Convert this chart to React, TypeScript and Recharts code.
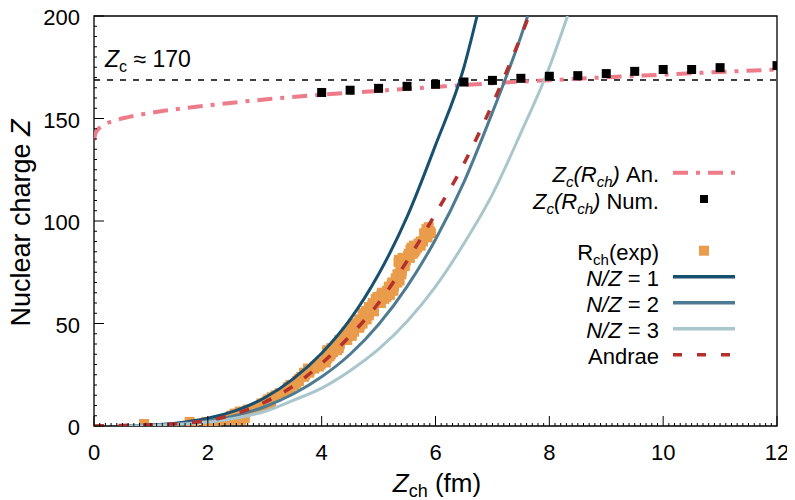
import React from 'react';
import { ComposedChart, Line, Scatter, XAxis, YAxis, ReferenceLine, ReferenceArea } from 'recharts';

const FONT = '"Liberation Sans", Arial, sans-serif';

const xMajor = [0, 2, 4, 6, 8, 10, 12];
const yMajor = [0, 50, 100, 150, 200];
const xMinor = Array.from({ length: 121 }, (_, i) => i / 10);
const yMinor = Array.from({ length: 41 }, (_, i) => i * 5);

// Z_c(R_ch) analytic
const anR = [0, 0.03, 0.1, 0.2, 0.4, 0.8, 1.4, 2.2, 3, 4, 5, 6, 7, 8, 9, 10, 11, 12];
const anZ = [139.5, 143, 145.5, 147.3, 149.3, 151.8, 154.4, 157, 159.3, 161.6, 163.5, 165.4, 167.2, 168.7, 170.1, 171.4, 172.7, 173.9];

// Z_c(R_ch) numerical
const numR = [4, 4.5, 5, 5.5, 6, 6.5, 7, 7.5, 8, 8.5, 9, 9.5, 10, 10.5, 11, 12];
const numZ = [162.7, 163.8, 164.7, 165.7, 166.7, 167.8, 168.6, 169.6, 170.6, 170.9, 171.9, 173, 173.9, 173.9, 174.8, 175.8];

// measured charge radii
const expR = [
  0.88, 2.14, 1.76, 1.68, 1.97, 2.07, 2.59, 2.44, 2.34, 2.25, 2.65, 2.52, 2.36, 2.46,
  2.43, 2.41, 2.47, 2.5, 2.56, 2.61, 2.7, 2.77, 2.9, 3.01, 2.97, 2.93, 2.99, 2.94, 3.1,
  3.06, 3.03, 3.11, 3.06, 3.12, 3.19, 3.26, 3.3, 3.37, 3.39, 3.4, 3.45, 3.41, 3.45,
  3.45, 3.52, 3.55, 3.57, 3.6, 3.6, 3.64, 3.69, 3.71, 3.69, 3.78, 3.79, 3.76, 3.87,
  3.88, 3.95, 3.93, 3.98, 3.99, 4.07, 4.07, 4.1, 4.14, 4.16, 4.09, 4.2, 4.1, 4.27,
  4.17, 4.3, 4.24, 4.3, 4.27, 4.32, 4.32, 4.41, 4.48, 4.49, 4.53, 4.54, 4.58, 4.64,
  4.56, 4.67, 4.6, 4.7, 4.68, 4.74, 4.75, 4.78, 4.8, 4.74, 4.83, 4.8, 4.9, 4.85, 4.88,
  4.89, 4.91, 5.04, 4.95, 5.1, 4.98, 5.14, 5.16, 5.06, 5.22, 5.2, 5.25, 5.23, 5.3,
  5.37, 5.35, 5.35, 5.37, 5.4, 5.41, 5.4, 5.43, 5.44, 5.35, 5.47, 5.36, 5.48, 5.42,
  5.55, 5.52, 5.53, 5.6, 5.56, 5.65, 5.58, 5.68, 5.62, 5.74, 5.78, 5.86, 5.86, 5.9, 5.84,
  4.31, 4.45, 4.4, 4.53, 4.44, 4.57, 4.52, 4.66, 4.56, 4.72, 4.66, 4.79, 4.72, 4.83,
  4.78, 4.92, 4.83, 4.92, 4.9, 5.05, 5.2, 5.15, 5.26, 5.18, 5.27, 5.24, 5.33, 5.3,
  5.33, 5.4, 5.38, 5.46, 5.63, 5.7, 5.74, 5.8, 5.92, 5.88, 5.0, 5.12, 5.18,
];
const expZ = [
  1, 1, 1, 2, 2, 2, 3, 3, 3, 3, 4, 4, 4, 4,
  5, 5, 6, 6, 7, 7, 8, 8, 9, 10, 10, 10, 11, 11, 11,
  12, 12, 12, 13, 14, 15, 16, 16, 17, 17, 18, 18, 19, 19,
  20, 20, 21, 22, 22, 23, 24, 24, 25, 26, 26, 27, 28, 28,
  29, 29, 30, 30, 31, 31, 32, 33, 34, 35, 36, 36, 37, 37,
  38, 38, 39, 39, 40, 40, 41, 42, 44, 45, 46, 47, 48, 48,
  49, 49, 50, 50, 51, 52, 53, 54, 54, 55, 55, 56, 56, 57, 58,
  59, 60, 60, 62, 62, 63, 63, 64, 65, 66, 67, 68, 69, 70,
  71, 72, 73, 74, 75, 76, 77, 78, 79, 80, 80, 81, 81, 82,
  82, 83, 84, 84, 86, 86, 87, 87, 88, 88, 90, 92, 94, 95, 96,
  42, 42, 44, 44, 46, 46, 48, 48, 50, 50, 52, 52, 54, 54,
  56, 56, 58, 58, 60, 64, 64, 66, 66, 68, 68, 70, 70, 72,
  74, 74, 78, 78, 85, 89, 90, 94, 94, 97, 62, 65, 67,
];

// Z(R_ch) for fixed N/Z
const nz1R = [0.5, 1, 1.5, 2, 2.5, 3, 3.5, 4, 4.5, 5, 5.5, 6, 6.5, 6.73];
const nz1Z = [0.1, 0.5, 1.6, 3.8, 7.6, 13.8, 23, 35.5, 52, 74, 102, 137, 175, 200];
const nz2R = [0.5, 1, 1.5, 2, 2.5, 3, 3.5, 4, 4.5, 5, 5.5, 6, 6.5, 7, 7.5, 7.62];
const nz2Z = [0.05, 0.3, 1.1, 2.6, 5.2, 9.4, 15.6, 24, 35, 49.5, 68, 91, 119, 153, 190, 200];
const nz3R = [0.5, 1, 1.5, 2, 2.5, 3, 3.5, 4, 4.5, 5, 5.5, 6, 6.5, 7, 7.5, 8, 8.32];
const nz3Z = [0.03, 0.25, 0.8, 1.9, 3.9, 7.1, 12.5, 18.5, 27, 37.5, 51, 68, 89, 113, 143, 175, 200];

// Andrae
const andR = [0, 0.5, 1, 1.5, 2, 2.5, 3, 3.5, 4, 4.5, 5, 5.5, 6, 6.5, 7, 7.5, 7.64];
const andZ = [0, 0.3, 0.6, 1.2, 2.6, 6, 11.6, 19.5, 30.5, 44, 60, 80.5, 103.5, 128, 157, 190, 200];

const zCrit = 168.8;

const pairs = (rs: number[], zs: number[]) => rs.map((r, i) => ({ r, z: zs[i] }));

const C_AN = '#EE7B8A';
const C_EXP = '#E99C4B';
const C_NZ1 = '#18506F';
const C_NZ2 = '#4E7A92';
const C_NZ3 = '#A9C6CD';
const C_AND = '#B3302C';

const XTick = (props: any) => {
  const { x, y, payload } = props;
  const major = xMajor.includes(payload.value);
  return (
    <g>
      <line x1={x} x2={x} y1={y} y2={y - (major ? 10 : 3)} stroke="#000" strokeWidth={1} />
      {major && (
        <text x={x} y={y + 34} textAnchor="middle" fontSize={22} fontFamily={FONT} fill="#000">
          {payload.value}
        </text>
      )}
    </g>
  );
};

const YTick = (props: any) => {
  const { x, y, payload } = props;
  const major = yMajor.includes(payload.value);
  return (
    <g>
      <line x1={x} x2={x + (major ? 10 : 3)} y1={y} y2={y} stroke="#000" strokeWidth={1} />
      {major && (
        <text x={x - 14} y={y + 9} textAnchor="end" fontSize={22} fontFamily={FONT} fill="#000">
          {payload.value}
        </text>
      )}
    </g>
  );
};

const square = (color: string, s: number) => (p: any) => (
  <rect x={p.cx - s / 2} y={p.cy - s / 2} width={s} height={s} fill={color} />
);
const noMark = () => <g />;

const LX = 651;
const rows = [164.7, 191, 242.7, 268.7, 294.7, 320.7, 346.7];

const Sub = ({ children, italic }: { children: string; italic?: boolean }) => (
  <tspan fontSize={15} dy={5} fontStyle={italic ? 'italic' : 'normal'}>
    {children}
  </tspan>
);

const Legend = () => (
  <g fontFamily={FONT} fontSize={22} fill="#000">
    <text x={LX} y={rows[0] + 9.5} textAnchor="end">
      <tspan fontStyle="italic">Z</tspan>
      <Sub italic>c</Sub>
      <tspan dy={-5} fontStyle="italic">(R</tspan>
      <Sub italic>ch</Sub>
      <tspan dy={-5} fontStyle="italic">)</tspan>
      <tspan>{'\u00a0An.'}</tspan>
    </text>
    <line x1={665} x2={735} y1={rows[0]} y2={rows[0]} stroke={C_AN} strokeWidth={4} strokeDasharray="15 8 4 8" />

    <text x={LX} y={rows[1] + 9.5} textAnchor="end">
      <tspan fontStyle="italic">Z</tspan>
      <Sub italic>c</Sub>
      <tspan dy={-5} fontStyle="italic">(R</tspan>
      <Sub italic>ch</Sub>
      <tspan dy={-5} fontStyle="italic">)</tspan>
      <tspan>{'\u00a0Num.'}</tspan>
    </text>
    <rect x={692} y={rows[1] - 4} width={8} height={8} fill="#000" />

    <text x={LX} y={rows[2] + 9.5} textAnchor="end">
      <tspan>R</tspan>
      <Sub>ch</Sub>
      <tspan dy={-5}>(exp)</tspan>
    </text>
    <rect x={691} y={rows[2] - 5} width={10} height={10} fill={C_EXP} />

    {[C_NZ1, C_NZ2, C_NZ3].map((c, i) => (
      <g key={c}>
        <text x={LX} y={rows[3 + i] + 9.5} textAnchor="end">
          <tspan fontStyle="italic">N/Z</tspan>
          <tspan>{` = ${i + 1}`}</tspan>
        </text>
        <line x1={665} x2={727} y1={rows[3 + i]} y2={rows[3 + i]} stroke={c} strokeWidth={3.5} />
      </g>
    ))}

    <text x={LX} y={rows[6] + 9.5} textAnchor="end">Andrae</text>
    <line x1={665} x2={727} y1={rows[6]} y2={rows[6]} stroke={C_AND} strokeWidth={3.5} strokeDasharray="9 15" />
  </g>
);

const Labels = () => (
  <g fontFamily={FONT} fill="#000">
    <text x={97} y={58.7} fontSize={23}>
      <tspan fontStyle="italic">Z</tspan>
      <tspan fontSize={16} dy={5}>c</tspan>
      <tspan dy={-5}>{'\u00a0\u2248 170'}</tspan>
    </text>
    <text x={22} y={215} fontSize={27} textAnchor="middle" transform="rotate(-90, 22, 215)">
      <tspan>Nuclear charge </tspan>
      <tspan fontStyle="italic">Z</tspan>
    </text>
    <text x={429} y={484} fontSize={26} textAnchor="middle">
      <tspan fontStyle="italic">Z</tspan>
      <tspan fontSize={18} dy={5}>ch</tspan>
      <tspan dy={-5}>{'\u00a0(fm)'}</tspan>
    </text>
  </g>
);

const curve = (data: { r: number; z: number }[], color: string, width: number, dash?: string) => (
  <Scatter
    data={data}
    shape={noMark}
    line={{ stroke: color, strokeWidth: width, strokeDasharray: dash, fill: 'none' }}
    lineJointType="monotoneX"
    isAnimationActive={false}
  />
);

const App: React.FC = () => {
  return (
    <div style={{ width: 787, height: 492, fontFamily: FONT }}>
      <style>{'html, body { overflow: hidden; }'}</style>
      <ComposedChart width={787} height={492} margin={{ top: 8, right: 18, bottom: 0, left: 0 }}>
        <XAxis
          type="number"
          dataKey="r"
          domain={[0, 12]}
          ticks={xMinor}
          interval={0}
          height={74}
          tickSize={0}
          tickMargin={0}
          tickLine={false}
          axisLine={false}
          tick={<XTick />}
          allowDataOverflow
        />
        <YAxis
          type="number"
          dataKey="z"
          domain={[0, 200]}
          ticks={yMinor}
          interval={0}
          width={86}
          tickSize={0}
          tickMargin={0}
          tickLine={false}
          axisLine={false}
          tick={<YTick />}
          allowDataOverflow
        />
        <ReferenceLine y={zCrit} stroke="#000" strokeWidth={1.5} strokeDasharray="6 7" />
        <Line data={pairs(anR, anZ)} dataKey="z" type="monotone" stroke={C_AN} strokeWidth={4} strokeDasharray="15 8 4 8" dot={false} activeDot={false} isAnimationActive={false} />
        <Scatter data={pairs(expR, expZ)} shape={square(C_EXP, 10)} isAnimationActive={false} />
        {curve(pairs(nz1R, nz1Z), C_NZ1, 3)}
        {curve(pairs(nz2R, nz2Z), C_NZ2, 3)}
        {curve(pairs(nz3R, nz3Z), C_NZ3, 3)}
        {curve(pairs(andR, andZ), C_AND, 3.5, '10 14.5')}
        <Scatter data={pairs(numR, numZ)} shape={square('#000', 9)} isAnimationActive={false} />
        <ReferenceArea x1={0} x2={12} y1={0} y2={200} fill="none" stroke="#000" strokeWidth={1.3} ifOverflow="visible" />
        <Labels />
        <Legend />
      </ComposedChart>
    </div>
  );
};

export default App;
